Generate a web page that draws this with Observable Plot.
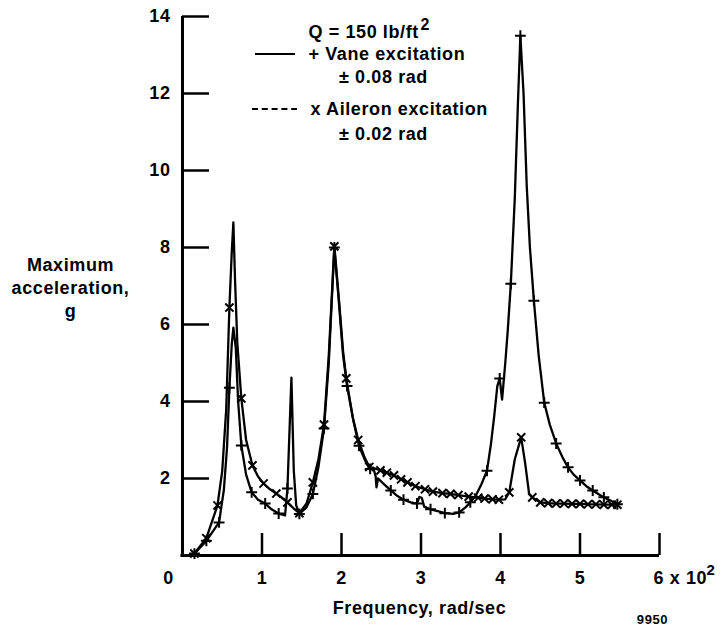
<!DOCTYPE html>
<html><head><meta charset="utf-8">
<script src="https://cdn.jsdelivr.net/npm/d3@7"></script>
<script src="https://cdn.jsdelivr.net/npm/@observablehq/plot@0.6"></script>
<style>
body{margin:0;background:#fff;}
#chart svg{display:block;}
</style></head><body><div id="chart"></div>
<script>
// Frequency in units of 10^2 rad/sec, acceleration in g
const xDomain = [0, 6];
const yDomain = [0, 14];
const xTicks = [0, 1, 2, 3, 4, 5, 6];
const xTickLabels = ["0", "1", "2", "3", "4", "5", "6"];
const yTicks = [2, 4, 6, 8, 10, 12, 14];
const yTickLabels = ["2", "4", "6", "8", "10", "12", "14"];

// [frequency, max acceleration, marker drawn (1/0)]
const vane = [
  [0.15,0.05,1],[0.30,0.38,1],[0.46,0.86,1],[0.52,1.7,0],[0.56,2.8,0],[0.59,4.36,1],[0.62,5.5,0],[0.64,5.92,0],[0.67,5.4,0],[0.70,4.0,0],
  [0.74,2.86,1],[0.80,2.1,0],[0.87,1.64,1],[0.95,1.45,0],[1.04,1.35,1],[1.12,1.2,0],[1.21,1.09,1],[1.29,1.04,0],[1.32,1.74,1],[1.37,4.62,0],
  [1.40,2.2,0],[1.43,1.3,0],[1.47,1.08,1],[1.56,1.25,0],[1.64,1.6,1],[1.71,2.3,0],[1.78,3.3,1],[1.84,5.0,0],[1.91,8.0,1],[1.97,6.5,0],
  [2.02,5.2,0],[2.07,4.4,1],[2.15,3.5,0],[2.22,2.85,1],[2.30,2.45,0],[2.36,2.25,1],[2.40,2.28,0],[2.43,2.05,0],[2.44,1.77,0],[2.46,2.0,0],
  [2.52,1.88,0],[2.62,1.69,1],[2.70,1.55,0],[2.78,1.45,1],[2.87,1.38,0],[2.95,1.35,1],[2.98,1.52,0],[3.01,1.5,0],[3.04,1.27,0],[3.12,1.2,1],
  [3.21,1.15,0],[3.30,1.1,1],[3.40,1.08,0],[3.48,1.12,1],[3.56,1.25,0],[3.62,1.38,1],[3.69,1.56,0],[3.76,1.85,0],[3.83,2.2,1],[3.88,2.9,0],
  [3.92,3.6,0],[3.96,4.4,0],[3.99,4.6,1],[4.02,4.05,0],[4.06,5.0,0],[4.09,5.8,0],[4.13,7.06,1],[4.18,9.3,0],[4.22,11.8,0],[4.25,13.5,1],
  [4.29,12.0,0],[4.33,9.6,0],[4.37,8.0,0],[4.42,6.62,1],[4.48,5.2,0],[4.55,3.97,1],[4.62,3.4,0],[4.70,2.91,1],[4.78,2.55,0],[4.85,2.29,1],
  [4.92,2.1,0],[5.00,1.95,1],[5.08,1.8,0],[5.16,1.69,1],[5.23,1.6,0],[5.30,1.51,1],[5.39,1.42,0],[5.47,1.33,1]
];
const aileron = [
  [0.15,0.05,1],[0.30,0.45,1],[0.44,1.3,1],[0.50,2.2,0],[0.55,3.8,0],[0.59,6.44,1],[0.62,7.9,0],[0.64,8.65,0],[0.66,7.2,0],[0.69,5.5,0],
  [0.74,4.08,1],[0.80,3.0,0],[0.88,2.34,1],[0.95,2.05,0],[1.02,1.87,1],[1.10,1.72,0],[1.18,1.61,1],[1.25,1.5,0],[1.32,1.38,1],[1.40,1.22,0],
  [1.47,1.1,1],[1.56,1.35,0],[1.64,1.9,1],[1.71,2.5,0],[1.78,3.4,1],[1.84,5.2,0],[1.91,8.03,1],[1.97,6.6,0],[2.02,5.3,0],[2.06,4.6,1],
  [2.14,3.6,0],[2.21,3.0,1],[2.29,2.55,0],[2.35,2.3,1],[2.42,2.26,0],[2.49,2.21,1],[2.57,2.15,1],[2.66,2.08,1],[2.75,1.98,1],[2.83,1.9,1],
  [2.93,1.8,1],[3.05,1.72,1],[3.15,1.66,1],[3.27,1.62,1],[3.37,1.6,1],[3.47,1.57,1],[3.60,1.53,1],[3.72,1.5,1],[3.80,1.48,1],[3.90,1.46,1],
  [3.98,1.45,1],[4.06,1.46,0],[4.11,1.64,1],[4.18,2.5,0],[4.26,3.07,1],[4.31,2.4,0],[4.36,1.6,0],[4.40,1.51,1],[4.50,1.38,1],[4.60,1.36,1],
  [4.70,1.35,1],[4.80,1.35,1],[4.90,1.34,1],[5.00,1.34,1],[5.10,1.33,1],[5.20,1.33,1],[5.30,1.32,1],[5.40,1.32,1],[5.47,1.32,1]
];

const yTitle = "Maximum\nacceleration,\ng";
const xTitle = "Frequency, rad/sec";
const figNumber = "9950";
const legendQ = "Q = 150 lb/ft";
const legendVane = ["+ Vane excitation", "\u00b1 0.08 rad"];
const legendAileron = ["x Aileron excitation", "\u00b1 0.02 rad"];

const W = 723, H = 633;
const M = {left: 182, right: 64, top: 16, bottom: 78};
// absolute-position helper for annotation text (relative to frame's top-left)
const at = (X, Y) => ({frameAnchor: "top-left", dx: X - M.left, dy: Y - M.top});
const fx = d => d[0], fy = d => d[1];

const chart = Plot.plot({
  width: W, height: H,
  marginLeft: M.left, marginRight: M.right, marginTop: M.top, marginBottom: M.bottom,
  x: {domain: xDomain},
  y: {domain: yDomain},
  style: {fontFamily: "'Liberation Sans', Arial, sans-serif", fontSize: "18px", fontWeight: "bold", letterSpacing: "0.6px", background: "white", color: "black"},
  marks: [
    Plot.ruleX([xDomain[0]], {y1: yDomain[0], y2: yDomain[1], strokeWidth: 3}),
    Plot.ruleY([yDomain[0]], {x1: xDomain[0] - 0.02, x2: xDomain[1], strokeWidth: 3}),
    Plot.axisY(yTicks, {anchor: "left", tickSize: 27, dx: 27, tickFormat: () => "", strokeWidth: 2.5, label: null}),
    Plot.axisX(xTicks.slice(1), {anchor: "bottom", tickSize: 22, dy: -22, tickFormat: () => "", strokeWidth: 2.5, label: null}),
    Plot.text(yTicks, {x: xDomain[0], y: d => d, text: (d, i) => yTickLabels[i], textAnchor: "end", dx: -12}),
    Plot.text(xTicks.slice(1, 6), {x: d => d, y: yDomain[0], text: d => xTickLabels[xTicks.indexOf(d)], dy: 23}),
    Plot.text([xTicks[0]], {x: d => d, y: yDomain[0], text: d => xTickLabels[0], dx: -14, dy: 23}),
    Plot.text([xTicks[6]], {x: d => d, y: yDomain[0], text: d => xTickLabels[6] + " x 10", textAnchor: "start", dx: -6, dy: 23}),
    Plot.text([xTicks[6]], {x: d => d, y: yDomain[0], text: () => "2", textAnchor: "start", dx: 47, dy: 15, fontSize: 15}),
    // data
    Plot.line(vane, {x: fx, y: fy, stroke: "black", strokeWidth: 2.3}),
    Plot.line(aileron, {x: fx, y: fy, stroke: "black", strokeWidth: 2.3}),
    Plot.dot(vane.filter(d => d[2]), {x: fx, y: fy, symbol: "plus", r: 3.6, stroke: "black", strokeWidth: 2}),
    Plot.dot(aileron.filter(d => d[2]), {x: fx, y: fy, symbol: "times", r: 3.8, stroke: "black", strokeWidth: 2}),
    // titles
    Plot.text([yTitle], {...at(70, 286), text: d => d, textAnchor: "middle", lineAnchor: "middle", lineHeight: 1.28}),
    Plot.text([xTitle], {...at(419, 608), text: d => d, textAnchor: "middle", lineAnchor: "middle"}),
    Plot.text([figNumber], {...at(652, 619), text: d => d, textAnchor: "middle", lineAnchor: "middle", fontSize: 13}),
    // legend
    Plot.text([legendQ], {...at(308, 32), text: d => d, textAnchor: "start", lineAnchor: "middle"}),
    Plot.text(["2"], {...at(420, 24), text: d => d, textAnchor: "start", lineAnchor: "middle", fontSize: 16}),
    Plot.text([legendVane[0]], {...at(308, 54), text: d => d, textAnchor: "start", lineAnchor: "middle"}),
    Plot.text([legendVane[1]], {...at(383, 77), text: d => d, textAnchor: "middle", lineAnchor: "middle"}),
    Plot.text([legendAileron[0]], {...at(310, 109), text: d => d, textAnchor: "start", lineAnchor: "middle"}),
    Plot.text([legendAileron[1]], {...at(383, 134), text: d => d, textAnchor: "middle", lineAnchor: "middle"})
  ]
});

// legend line samples
const svg = d3.select(chart);
svg.append("line").attr("x1", 255).attr("x2", 295).attr("y1", 54).attr("y2", 54)
  .attr("stroke", "black").attr("stroke-width", 2);
svg.append("line").attr("x1", 252).attr("x2", 297).attr("y1", 109).attr("y2", 109)
  .attr("stroke", "black").attr("stroke-width", 2).attr("stroke-dasharray", "6,3.8");

document.getElementById("chart").appendChild(chart);
</script>
</body></html>
